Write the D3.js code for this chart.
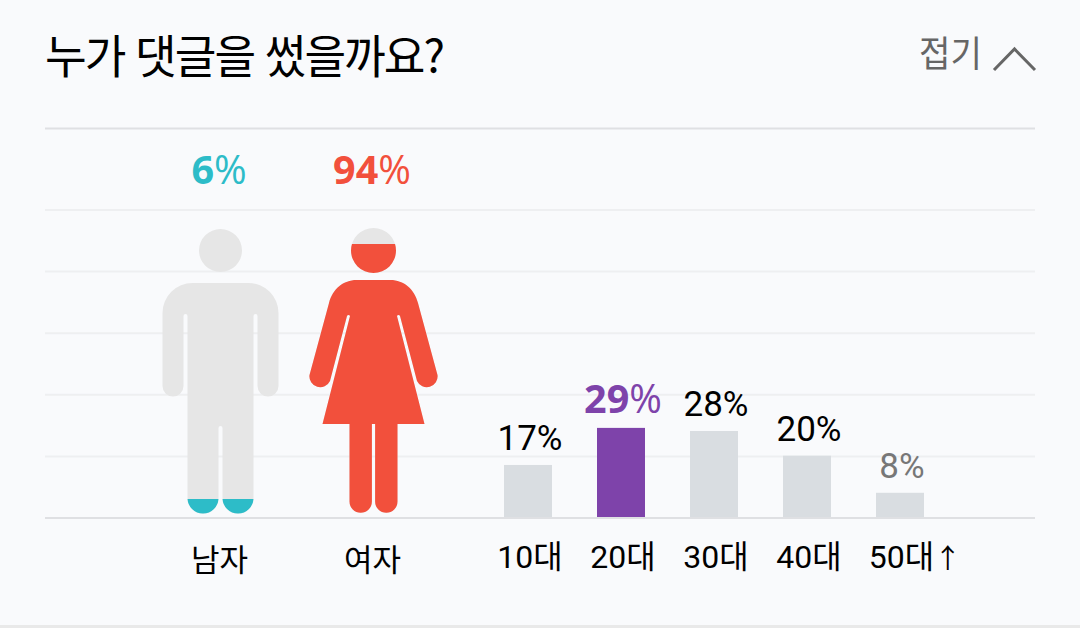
<!DOCTYPE html>
<html lang="ko">
<head>
<meta charset="utf-8">
<script src="https://cdn.jsdelivr.net/npm/d3@7"></script>
<style>
  html, body { margin: 0; padding: 0; background: #f9fafc; }
  svg { display: block; }
  text { font-family: "Noto Sans CJK KR", sans-serif; }
  .latin { font-family: "Open Sans", "Noto Sans", sans-serif; }
  .num { font-family: Roboto, "Noto Sans CJK KR", sans-serif; }
</style>
</head>
<body>
<div id="chart"></div>
<script>
// Values
const genders = ['남자', '여자'];
const genderValues = [6, 94];
const genderColors = ['#2dbcc8', '#f2503c'];
const ages = ['10대', '20대', '30대', '40대', '50대↑'];
const ageValues = [17, 29, 28, 20, 8];
const gridLevels = [20, 40, 60, 80, 100];

const width = 1080;
const height = 628;
const highlightAge = d3.max(ageValues);

// Silhouettes: x is relative to the figure centre, y is in chart pixels
const manShape = 'M-21.5,250.5a21.5,21.5 0 1 0 43,0a21.5,21.5 0 1 0 -43,0Z' +
  'M-58,313A30,30 0 0 1 -28,283L28,283A30,30 0 0 1 58,313L58,386A10.5,10.5 0 0 1 37,386L37,316A2,2 0 0 0 33,316' +
  'L33,498A15.5,15.5 0 0 1 2,498L2,428A2,2 0 0 0 -2,428L-2,498A15.5,15.5 0 0 1 -33,498' +
  'L-33,316A2,2 0 0 0 -37,316L-37,386A10.5,10.5 0 0 1 -58,386Z';
const womanShape = 'M-22.5,250.5a22,22 0 1 0 45,0a22,22 0 1 0 -45,0Z' +
  'M-17,280L17,280C30,280 41,289 44.5,303L64,375A10.8,10.8 0 0 1 43.5,381L26.5,316A1.6,1.6 0 0 0 23.5,316' +
  'L51,424L24,424L24,501.5A11.2,11.2 0 0 1 1.6,501.5L1.6,424L-1.6,424L-1.6,501.5A11.2,11.2 0 0 1 -24,501.5' +
  'L-24,424L-51,424L-23.5,316A1.6,1.6 0 0 0 -26.5,316L-43.5,381A10.8,10.8 0 0 1 -64,375L-44.5,303C-41,289 -30,280 -17,280Z';
const shapes = [manShape, womanShape];

const svg = d3.select('#chart').append('svg')
  .attr('width', width)
  .attr('height', height)
  .attr('viewBox', [0, 0, width, height]);

svg.append('rect').attr('width', width).attr('height', height).attr('fill', '#f9fafc');
svg.append('rect').attr('y', 625).attr('width', width).attr('height', 3).attr('fill', '#e9e9e9');

// Header
svg.append('text')
  .attr('x', 45).attr('y', 73)
  .attr('font-size', 46)
  .attr('letter-spacing', -2)
  .attr('textLength', 398)
  .attr('lengthAdjust', 'spacingAndGlyphs')
  .attr('fill', '#000')
  .text('누가 댓글을 썼을까요?');

svg.append('text')
  .attr('x', 919).attr('y', 67)
  .attr('font-size', 36)
  .attr('textLength', 63)
  .attr('lengthAdjust', 'spacingAndGlyphs')
  .attr('fill', '#666')
  .text('접기');

svg.append('path')
  .attr('d', d3.line()([[994, 70], [1014.5, 49], [1035, 70]]))
  .attr('fill', 'none')
  .attr('stroke', '#666')
  .attr('stroke-width', 3);

// Scales
const y = d3.scaleLinear().domain([0, 100]).range([518, 210]);
const barY = d3.scaleLinear().domain([0, 100]).range([517.5, 208.5]);
const iconY = d3.scaleLinear().domain([0, 100]).range([516.4, 226.6]);
const xGender = d3.scalePoint().domain(genders).range([220.5, 373.5]);
const xAge = d3.scaleBand().domain(ages).range([504, 924]).paddingInner(0.484).paddingOuter(0);

// Grid
svg.append('line')
  .attr('x1', 45).attr('x2', 1035).attr('y1', 128.5).attr('y2', 128.5)
  .attr('stroke', '#dfe0e3').attr('stroke-width', 2);

svg.append('g').selectAll('line')
  .data(gridLevels)
  .join('line')
  .attr('x1', 45).attr('x2', 1035)
  .attr('y1', d => y(d)).attr('y2', d => y(d))
  .attr('stroke', '#eeeff1').attr('stroke-width', 2);

// Figures: grey silhouette, then the coloured one clipped to the value
const defs = svg.append('defs');
defs.selectAll('clipPath')
  .data(genders)
  .join('clipPath')
  .attr('id', (d, i) => 'fill-' + i)
  .append('rect')
  .attr('x', -80)
  .attr('width', 160)
  .attr('y', (d, i) => iconY(genderValues[i]))
  .attr('height', (d, i) => iconY(0) - iconY(genderValues[i]));

const figure = svg.append('g').selectAll('g')
  .data(genders)
  .join('g')
  .attr('transform', d => `translate(${xGender(d)},0)`);

figure.append('path')
  .attr('d', (d, i) => shapes[i])
  .attr('fill', '#e6e6e6');

figure.append('path')
  .attr('d', (d, i) => shapes[i])
  .attr('fill', (d, i) => genderColors[i])
  .attr('clip-path', (d, i) => `url(#fill-${i})`);

// Gender percent labels
const genderLabel = svg.append('g').selectAll('text')
  .data(genders)
  .join('text')
  .attr('class', 'latin')
  .attr('x', d => xGender(d) - 1.5)
  .attr('y', 184)
  .attr('text-anchor', 'middle')
  .attr('font-size', 39.5)
  .attr('fill', (d, i) => genderColors[i]);
genderLabel.append('tspan').attr('font-weight', 700).text((d, i) => genderValues[i]);
genderLabel.append('tspan').text('%');

// Age bars
svg.append('g').selectAll('rect')
  .data(ages)
  .join('rect')
  .attr('x', d => xAge(d))
  .attr('width', xAge.bandwidth())
  .attr('y', (d, i) => barY(ageValues[i]))
  .attr('height', (d, i) => barY(0) - barY(ageValues[i]))
  .attr('fill', (d, i) => ageValues[i] === highlightAge ? '#7e43aa' : '#d9dde1');

// Baseline goes over the bar feet
svg.append('line')
  .attr('x1', 45).attr('x2', 1035).attr('y1', y(0)).attr('y2', y(0))
  .attr('stroke', '#dfe0e3').attr('stroke-width', 2);

// Age percent labels
const ageLabel = svg.append('g').selectAll('text')
  .data(ages)
  .join('text')
  .attr('x', d => xAge(d) + xAge.bandwidth() / 2 + 2)
  .attr('y', (d, i) => barY(ageValues[i]) - 15)
  .attr('text-anchor', 'middle')
  .attr('class', (d, i) => ageValues[i] === highlightAge ? 'latin' : 'num')
  .attr('font-size', (d, i) => ageValues[i] === highlightAge ? 39.5 : 35)
  .attr('fill', (d, i) => ageValues[i] === highlightAge ? '#7e43aa' : (i === ages.length - 1 ? '#777' : '#000'));
ageLabel.append('tspan')
  .attr('font-weight', (d, i) => ageValues[i] === highlightAge ? 700 : 400)
  .text((d, i) => ageValues[i]);
ageLabel.append('tspan').text('%');

// Category labels
const genderAxis = svg.append('g')
  .attr('transform', 'translate(-1.5,571)')
  .call(d3.axisBottom(xGender).tickSize(0).tickPadding(0));
genderAxis.select('.domain').remove();
genderAxis.selectAll('text')
  .attr('dy', 0)
  .attr('font-size', 31)
  .attr('fill', '#000');

const ageAxis = svg.append('g')
  .attr('transform', 'translate(2,568)')
  .call(d3.axisBottom(xAge).tickSize(0).tickPadding(0));
ageAxis.select('.domain').remove();
ageAxis.selectAll('text')
  .attr('class', 'num')
  .attr('dy', 0)
  .attr('font-size', 32)
  .attr('fill', '#000');

// The arrow on the last tick is a smaller glyph
const lastTick = ageAxis.selectAll('.tick:last-of-type text');
const lastLabel = lastTick.text();
lastTick.text(null).attr('dx', 13);
lastTick.append('tspan').text(lastLabel.slice(0, -1));
lastTick.append('tspan')
  .attr('font-size', 27)
  .text(lastLabel.slice(-1));
</script>
</body>
</html>
